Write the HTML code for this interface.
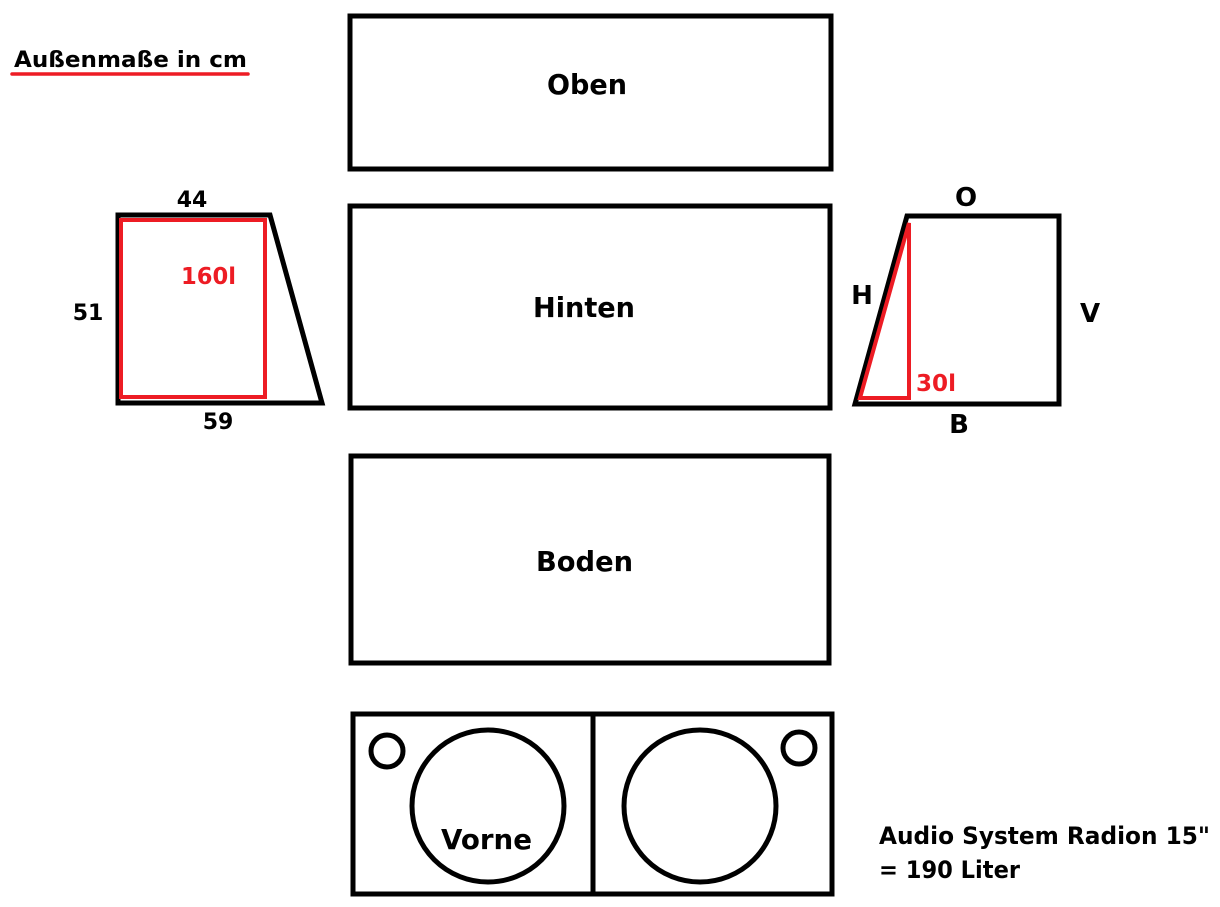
<!DOCTYPE html>
<html><head><meta charset="utf-8"><style>
html,body{margin:0;padding:0;background:#fff;}
svg{display:block;}
text{font-family:"DejaVu Sans","Liberation Sans",sans-serif;font-weight:bold;}
</style></head><body>
<svg width="1220" height="907" viewBox="0 0 1220 907">
<rect width="1220" height="907" fill="#fff"/>
<text x="14" y="67" font-size="22" fill="#000" textLength="233" lengthAdjust="spacingAndGlyphs">Außenmaße in cm</text>
<line x1="12" y1="74" x2="248" y2="74" stroke="#ed1c24" stroke-width="3.5" stroke-linecap="round"/>
<g fill="none" stroke="#000" stroke-width="5">
<rect x="350" y="16" width="481" height="153"/>
<rect x="350" y="206" width="480" height="202"/>
<rect x="351" y="456" width="478" height="207"/>
<rect x="353" y="714" width="479" height="180"/>
<line x1="593" y1="714" x2="593" y2="894"/>
<circle cx="387" cy="751" r="16"/>
<circle cx="488" cy="806" r="76"/>
<circle cx="700" cy="806" r="76"/>
<circle cx="799" cy="748" r="16"/>
<polygon points="118,215 270,215 322,403 118,403"/>
<polygon points="907,216 1059,216 1059,404 855,404"/>
</g>
<g fill="none" stroke="#ed1c24" stroke-width="4">
<rect x="121" y="220" width="144" height="177"/>
<polygon points="909,223 909,398 860,398"/>
</g>
<g font-size="28" fill="#000">
<text x="547" y="94" textLength="80" lengthAdjust="spacingAndGlyphs">Oben</text>
<text x="533" y="317" textLength="102" lengthAdjust="spacingAndGlyphs">Hinten</text>
<text x="536" y="571" textLength="97" lengthAdjust="spacingAndGlyphs">Boden</text>
<text x="441" y="849" textLength="91" lengthAdjust="spacingAndGlyphs">Vorne</text>
</g>
<g font-size="22" text-anchor="middle" fill="#000">
<text x="192" y="207">44</text>
<text x="88" y="320">51</text>
<text x="218" y="429">59</text>
<text x="966" y="206" font-size="26">O</text>
<text x="862" y="304" font-size="26">H</text>
<text x="1090" y="322" font-size="26">V</text>
<text x="959" y="433" font-size="26">B</text>
</g>
<text x="181" y="284" font-size="23" fill="#ed1c24" textLength="55" lengthAdjust="spacingAndGlyphs">160l</text>
<text x="916" y="391" font-size="23" fill="#ed1c24" textLength="40" lengthAdjust="spacingAndGlyphs">30l</text>
<text x="879" y="844" font-size="24" fill="#000" textLength="331" lengthAdjust="spacingAndGlyphs">Audio System Radion 15"</text>
<text x="879" y="878" font-size="24" fill="#000" textLength="141" lengthAdjust="spacingAndGlyphs">= 190 Liter</text>
</svg>
</body></html>
